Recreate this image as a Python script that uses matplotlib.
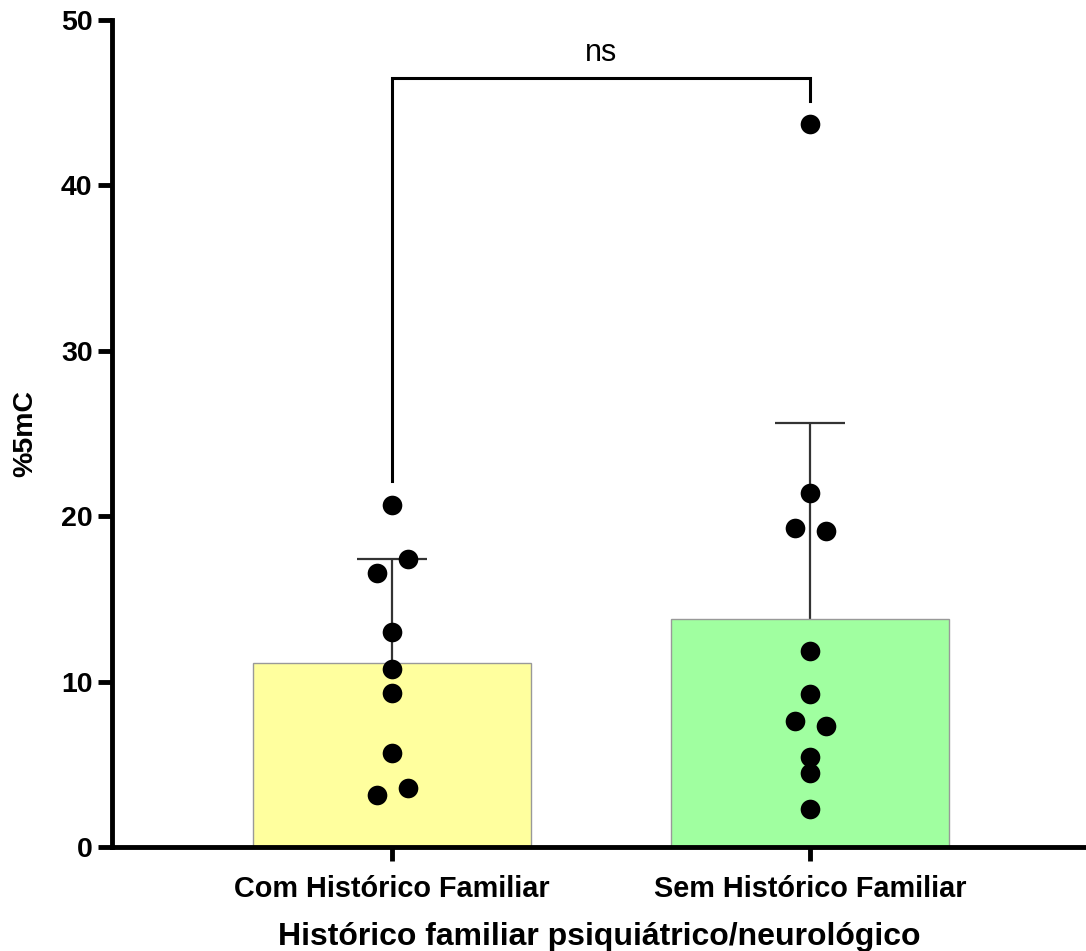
import numpy as np
import matplotlib
matplotlib.use("Agg")
import matplotlib.pyplot as plt

plt.rcParams['font.family'] = ['Liberation Sans', 'DejaVu Sans']

categories = ["Com Histórico Familiar", "Sem Histórico Familiar"]
com_hist = [20.68, 17.41, 16.57, 13.00, 10.76, 9.31, 5.68, 3.57, 3.14]
sem_hist = [43.71, 21.40, 19.29, 19.10, 11.85, 9.25, 7.62, 7.32, 5.44, 4.47, 2.30]
# horizontal jitter of each point within its column (in category units)
com_offsets = [0, 0.037, -0.037, 0, 0, 0, 0, 0.037, -0.037]
sem_offsets = [0, 0, -0.037, 0.037, 0, 0, -0.037, 0.037, 0, 0, 0]
bar_colors = ["#FFFF9E", "#A0FFA0"]
y_ticks = [0, 10, 20, 30, 40, 50]

groups = [com_hist, sem_hist]
offsets = [com_offsets, sem_offsets]
means = np.array([np.mean(g) for g in groups])
sds = np.array([np.std(g, ddof=1) for g in groups])
xpos = np.arange(len(categories))

fig = plt.figure(figsize=(10.86, 9.51), dpi=100)
ax = fig.add_axes([0.1031, 0.1094, 0.8969, 0.8696])

# upper SD whiskers, drawn beneath the bars
cap_half = 0.084
ax.vlines(xpos, means, means + sds, color='#333333', lw=1.6, zorder=1)
ax.hlines(means + sds, xpos - cap_half, xpos + cap_half, color='#333333',
          lw=1.6, zorder=1)
ax.bar(xpos, means, width=0.665, color=bar_colors, edgecolor='#999999',
       linewidth=1.0, zorder=2)
for x, g, off in zip(xpos, groups, offsets):
    ax.scatter(x + np.array(off), g, s=200, color='black', zorder=3, linewidths=0)

# significance bracket
left_y, top_y, right_y = 22.1, 46.5, 45.1
ax.plot([0, 0, 1, 1], [left_y, top_y, top_y, right_y], color='black', lw=2.2,
        solid_joinstyle='miter', zorder=4, clip_on=False)
ax.text(0.5, 47.5, "ns", ha='center', va='baseline', fontsize=22)

ax.set_xlim(-0.67, 1.66)
ax.set_ylim(0, 50)
ax.set_yticks(y_ticks)
ax.set_xticks(xpos)
ax.set_xticklabels(categories, fontsize=20.8, fontweight='bold')
ax.tick_params(axis='y', labelsize=20.5, width=3.5, length=10, pad=4)
for lab in ax.get_yticklabels():
    lab.set_fontweight('bold')
ax.tick_params(axis='x', width=3.5, length=10, pad=10)

for s in ['top', 'right']:
    ax.spines[s].set_visible(False)
for s in ['left', 'bottom']:
    ax.spines[s].set_linewidth(3.5)

ax.set_ylabel("%5mC", fontsize=20.5, fontweight='bold', labelpad=16)
ax.set_xlabel("Histórico familiar psiquiátrico/neurológico", fontsize=23,
              fontweight='bold', labelpad=14)

fig.savefig("out.png", dpi=100)
